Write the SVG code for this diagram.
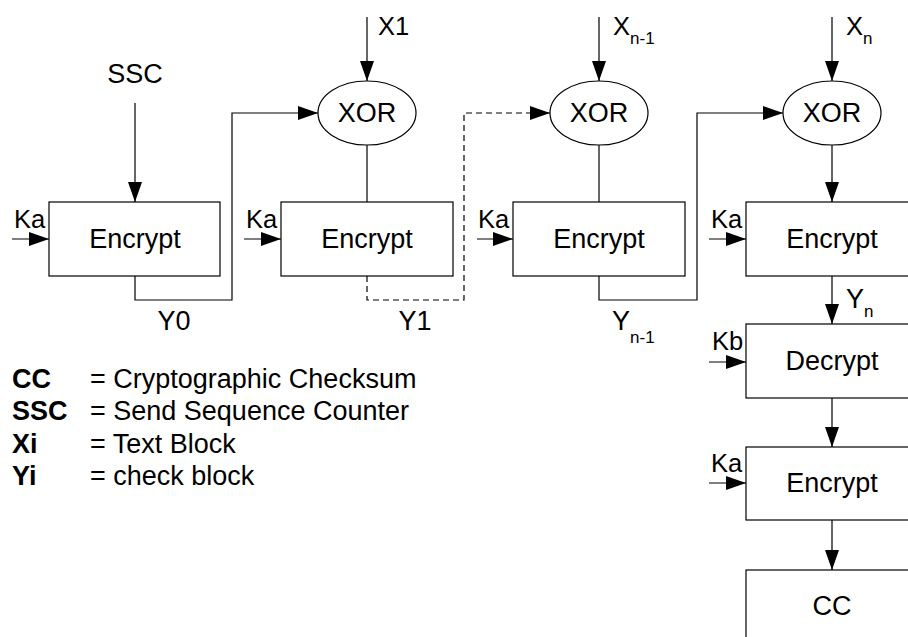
<svg xmlns="http://www.w3.org/2000/svg" width="908" height="637" viewBox="0 0 908 637">
<style>
text{font-family:"Liberation Sans",Arial,sans-serif;fill:#000}
.lbl{font-size:27px}
.sm{font-size:25.5px}
.sub{font-size:17px}
.b{font-weight:bold}
.box{fill:#fff;stroke:#000;stroke-width:1.2}
.ln{fill:none;stroke:#000;stroke-width:1.2}
.dash{stroke-dasharray:6,4}
</style>
<defs>
<marker id="ah" markerUnits="userSpaceOnUse" markerWidth="21" markerHeight="15" refX="20" refY="7" orient="auto">
<path d="M0,0 L20,7 L0,14 z" fill="#000"/>
</marker>
</defs>
<rect width="908" height="637" fill="#fff"/>
<g id="connectors">
<path class="ln" d="M135,103 V202" marker-end="url(#ah)"/>
<path class="ln" d="M12,239 H49" marker-end="url(#ah)"/>
<path class="ln" d="M135,276 V300 H232 V113 H318" marker-end="url(#ah)"/>
<path class="ln" d="M367,17 V81" marker-end="url(#ah)"/>
<path class="ln" d="M367,145 V202"/>
<path class="ln" d="M244,239 H281" marker-end="url(#ah)"/>
<path class="ln dash" d="M367,276 V300 H464 V113 H550" marker-end="url(#ah)"/>
<path class="ln" d="M599,17 V81" marker-end="url(#ah)"/>
<path class="ln" d="M599,145 V202"/>
<path class="ln" d="M477,239 H513" marker-end="url(#ah)"/>
<path class="ln" d="M599,276 V300 H697 V113 H783" marker-end="url(#ah)"/>
<path class="ln" d="M832,17 V81" marker-end="url(#ah)"/>
<path class="ln" d="M832,145 V202" marker-end="url(#ah)"/>
<path class="ln" d="M709,239 H746" marker-end="url(#ah)"/>
<path class="ln" d="M832,276 V324" marker-end="url(#ah)"/>
<path class="ln" d="M709,362 H746" marker-end="url(#ah)"/>
<path class="ln" d="M832,398 V447" marker-end="url(#ah)"/>
<path class="ln" d="M709,483 H746" marker-end="url(#ah)"/>
<path class="ln" d="M832,520 V570" marker-end="url(#ah)"/>
</g>
<g id="ssc"><text class="lbl" x="135" y="83" text-anchor="middle">SSC</text></g>
<g id="enc1">
<rect class="box" x="49" y="202" width="171" height="74"/>
<text class="lbl" x="135" y="248" text-anchor="middle">Encrypt</text>
<text class="sm" x="14" y="228">Ka</text>
</g>
<g id="y0"><text class="lbl" x="174" y="330" text-anchor="middle">Y0</text></g>
<g id="xor1">
<ellipse class="box" cx="367" cy="113" rx="49" ry="32"/>
<text class="lbl" x="367" y="122" text-anchor="middle">XOR</text>
<text class="sm" x="378" y="35">X1</text>
</g>
<g id="enc2">
<rect class="box" x="281" y="202" width="172" height="74"/>
<text class="lbl" x="367" y="248" text-anchor="middle">Encrypt</text>
<text class="sm" x="246" y="228">Ka</text>
</g>
<g id="y1"><text class="lbl" x="415" y="330" text-anchor="middle">Y1</text></g>
<g id="xor2">
<ellipse class="box" cx="599" cy="113" rx="49" ry="32"/>
<text class="lbl" x="599" y="122" text-anchor="middle">XOR</text>
<text class="sm" x="613" y="35">X<tspan class="sub" dy="9">n-1</tspan></text>
</g>
<g id="enc3">
<rect class="box" x="513" y="202" width="172" height="74"/>
<text class="lbl" x="599" y="248" text-anchor="middle">Encrypt</text>
<text class="sm" x="478" y="228">Ka</text>
</g>
<g id="yn1"><text class="lbl" x="612" y="330">Y<tspan class="sub" dy="13">n-1</tspan></text></g>
<g id="xor3">
<ellipse class="box" cx="832" cy="113" rx="49" ry="32"/>
<text class="lbl" x="832" y="122" text-anchor="middle">XOR</text>
<text class="sm" x="846" y="35">X<tspan class="sub" dy="9">n</tspan></text>
</g>
<g id="enc4">
<rect class="box" x="746" y="202" width="172" height="74"/>
<text class="lbl" x="832" y="248" text-anchor="middle">Encrypt</text>
<text class="sm" x="711" y="228">Ka</text>
</g>
<g id="yn"><text class="lbl" x="846" y="308">Y<tspan class="sub" dy="9">n</tspan></text></g>
<g id="dec">
<rect class="box" x="746" y="324" width="172" height="74"/>
<text class="lbl" x="832" y="370" text-anchor="middle">Decrypt</text>
<text class="sm" x="712" y="350">Kb</text>
</g>
<g id="enc5">
<rect class="box" x="746" y="447" width="172" height="73"/>
<text class="lbl" x="832" y="492" text-anchor="middle">Encrypt</text>
<text class="sm" x="711" y="472">Ka</text>
</g>
<g id="cc">
<rect class="box" x="746" y="570" width="172" height="80"/>
<text class="lbl" x="832" y="615" text-anchor="middle">CC</text>
</g>
<g id="legend">
<text class="lbl b" x="12" y="388">CC</text><text class="lbl" x="90" y="388">= Cryptographic Checksum</text>
<text class="lbl b" x="12" y="420">SSC</text><text class="lbl" x="90" y="420">= Send Sequence Counter</text>
<text class="lbl b" x="12" y="453">Xi</text><text class="lbl" x="90" y="453">= Text Block</text>
<text class="lbl b" x="12" y="485">Yi</text><text class="lbl" x="90" y="485">= check block</text>
</g>
</svg>
